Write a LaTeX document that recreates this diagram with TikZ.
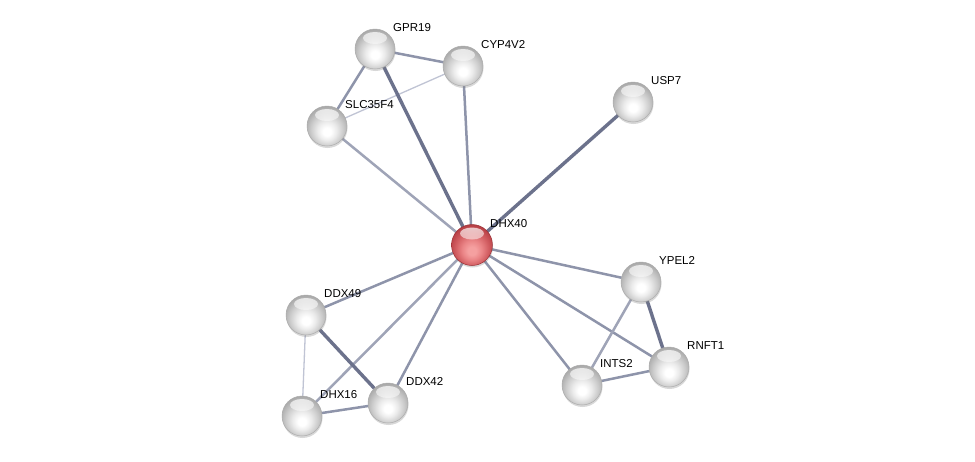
\documentclass[tikz,border=0pt]{standalone}
\usepackage{fontspec}
\setmainfont{Liberation Sans}
\usetikzlibrary{shadows,backgrounds,fadings}

\definecolor{edgedark}{RGB}{108,114,140}
\definecolor{edgemid}{RGB}{142,148,170}
\definecolor{edgelight}{RGB}{192,196,212}
\definecolor{redlight}{RGB}{245,160,160}
\definecolor{redbright}{RGB}{234,132,134}
\definecolor{redmid}{RGB}{210,94,98}
\definecolor{reddark}{RGB}{186,66,72}
\definecolor{redrim}{RGB}{156,48,54}

\pgfdeclareradialshading{greyball}{\pgfpoint{0bp}{-8bp}}{color(0bp)=(white); color(5bp)=(white); color(12bp)=(black!8); color(20bp)=(black!20); color(27bp)=(black!32); color(33bp)=(black!42); color(50bp)=(black!42)}
\pgfdeclareradialshading{redball}{\pgfpoint{0bp}{-8bp}}{color(0bp)=(redlight); color(5bp)=(redlight); color(12bp)=(redbright); color(20bp)=(redmid); color(27bp)=(reddark); color(33bp)=(redrim); color(50bp)=(redrim)}

\tikzset{
  protein/.style={circle, minimum size=40pt, inner sep=0pt, shading=greyball,
    draw=black!32, line width=0.5pt,
    drop shadow={shadow xshift=0.5pt, shadow yshift=-2pt, opacity=0.3},
    path picture={\fill[white, path fading=south, opacity=0.75] ([yshift=-9pt]path picture bounding box.north) ellipse (12pt and 6pt);}},
  query/.style={protein, minimum size=41pt, shading=redball, draw=redrim},
  genelabel/.style={anchor=base west, inner sep=0pt, font=\fontsize{11.5}{13}\selectfont},
  strong/.style={draw=edgedark, line width=3.4pt},
  medium/.style={draw=edgemid, line width=2.5pt},
  weak/.style={draw=edgelight, line width=1.3pt}
}

\begin{document}
\begin{tikzpicture}[x=1pt, y=-1pt]
      \useasboundingbox (0, 0) rectangle (975, 461);

      \node[query]   (dhx40)   at (472, 245) {};
      \node[protein] (gpr19)   at (375, 49)  {};
      \node[protein] (cyp4v2)  at (463, 66)  {};
      \node[protein] (slc35f4) at (327, 126) {};
      \node[protein] (usp7)    at (633, 102) {};
      \node[protein] (ypel2)   at (641, 282) {};
      \node[protein] (rnft1)   at (669, 367) {};
      \node[protein] (ints2)   at (582, 385) {};
      \node[protein] (ddx49)   at (306, 315) {};
      \node[protein] (dhx16)   at (302, 416) {};
      \node[protein] (ddx42)   at (388, 403) {};

      \foreach \n/\t in {dhx40/DHX40, gpr19/GPR19, cyp4v2/CYP4V2, slc35f4/SLC35F4, usp7/USP7,
                         ypel2/YPEL2, rnft1/RNFT1, ints2/INTS2, ddx49/DDX49, dhx16/DHX16, ddx42/DDX42}
        \node[genelabel] (\n-lbl) at ([shift={(18pt, 18pt)}]\n.center) {\t};

      \begin{scope}[on background layer]
        \fill[white] (0, 0) rectangle (975, 461);
        % interactions, strongest on top
        \draw[weak] (slc35f4.center) -- (cyp4v2.center);
        \draw[weak] (ddx49.center) -- (dhx16.center);
        \draw[medium] (gpr19.center) -- (cyp4v2.center);
        \draw[medium] (gpr19.center) -- (slc35f4.center);
        \draw[medium] (cyp4v2.center) -- (dhx40.center);
        \draw[medium, draw=edgemid!85] (slc35f4.center) -- (dhx40.center);
        \draw[medium] (dhx40.center) -- (ddx49.center);
        \draw[medium, draw=edgemid!85] (dhx40.center) -- (dhx16.center);
        \draw[medium] (dhx40.center) -- (ddx42.center);
        \draw[medium] (dhx40.center) -- (ypel2.center);
        \draw[medium] (dhx40.center) -- (rnft1.center);
        \draw[medium] (dhx40.center) -- (ints2.center);
        \draw[medium, draw=edgemid!85] (ypel2.center) -- (ints2.center);
        \draw[medium] (ints2.center) -- (rnft1.center);
        \draw[medium] (dhx16.center) -- (ddx42.center);
        \draw[strong] (gpr19.center) -- (dhx40.center);
        \draw[strong] (usp7.center) -- (dhx40.center);
        \draw[strong] (ddx49.center) -- (ddx42.center);
        \draw[strong] (ypel2.center) -- (rnft1.center);
      \end{scope}
\end{tikzpicture}
\end{document}
